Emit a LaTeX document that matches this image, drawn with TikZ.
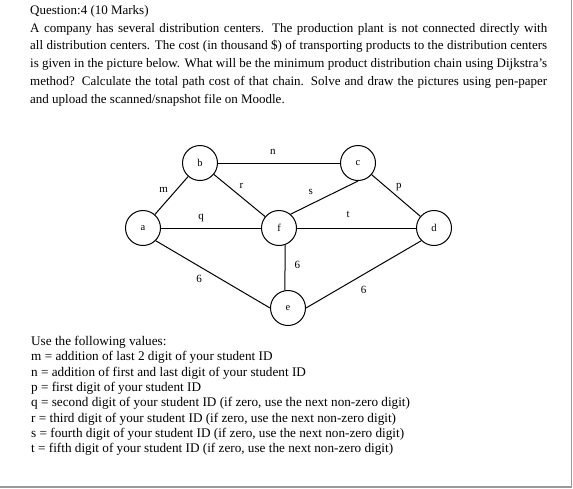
\documentclass[tikz,border=0pt]{standalone}
\usepackage{fontspec}
\setmainfont{Liberation Serif}
\usepackage{tikz}

\begin{document}
\begin{tikzpicture}[
                x=1pt, y=-1pt,
                city/.style = {circle, draw, line width=1pt, minimum size=35pt, inner sep=0pt, font=\fontsize{10.5}{10.5}\selectfont},
                road/.style = {line width=1pt},
                cost/.style = {inner sep=1pt, font=\fontsize{11}{11}\selectfont}
        ]
        \useasboundingbox (0,0) rectangle (573,488);
        \draw[gray!80, line width=1.2pt] (0,487) -- (571.5,487) -- (571.5,0);

        % question text
        \node[anchor=north west, text width=517pt, align=justify, inner sep=0pt,
              font=\fontsize{13}{17.8}\selectfont] (question) at (30,5)
                {Question:4 (10 Marks)\\
                 A company has several distribution centers. The production plant is not connected directly with\linebreak
                 all distribution centers. The cost (in thousand \$) of transporting products to the distribution centers\linebreak
                 is given in the picture below. What will be the minimum product distribution chain using Dijkstra's\linebreak
                 method? Calculate the total path cost of that chain. Solve and draw the pictures using pen-paper\linebreak
                 and upload the scanned/snapshot file on Moodle.};

        % the network
        \node[city] (a) at (143,228) {a};
        \node[city] (b) at (200,163) {b};
        \node[city] (c) at (358,163) {c};
        \node[city] (d) at (434,228) {d};
        \node[city] (e) at (288,308) {e};
        \node[city] (f) at (279,228) {f};

        \draw[road] (a) -- node[cost, pos=.5, above left=2pt] (lm) {m} (b);
        \draw[road] (b) -- node[cost, pos=.45, above=7pt] (ln) {n} (c);
        \draw[road] (b) -- node[cost, pos=.5, above=6pt, xshift=2pt] (lr) {r} (f);
        \draw[road] (c.south) -- node[cost, pos=.7, above=8pt] (ls) {s} (f.50);
        \draw[road] (c) -- node[cost, pos=.45, above right=1pt] (lp) {p} (d);
        \draw[road] (a) -- node[cost, pos=.4, above=5pt] (lq) {q} (f);
        \draw[road] (f) -- node[cost, pos=.43, above=9pt] (lt) {t} (d);
        \draw[road] (a.south east) -- node[cost, pos=.38, below=7pt] (lae) {6} (e.west);
        \draw[road] (f.-70) -- node[cost, pos=.45, right=8pt] (lfe) {6} (e.100);
        \draw[road] (e.east) -- node[cost, pos=.5, below=10pt] (led) {6} (d.south west);

        % values
        \node[anchor=north west, align=left, inner sep=0pt,
              font=\fontsize{13.2}{15.3}\selectfont] (values) at (31,336)
                {Use the following values:\\
                 m = addition of last 2 digit of your student ID\\
                 n = addition of first and last digit of your student ID\\
                 p = first digit of your student ID\\
                 q = second digit of your student ID (if zero, use the next non-zero digit)\\
                 r = third digit of your student ID (if zero, use the next non-zero digit)\\
                 s = fourth digit of your student ID (if zero, use the next non-zero digit)\\
                 t = fifth digit of your student ID (if zero, use the next non-zero digit)};
\end{tikzpicture}
\end{document}
